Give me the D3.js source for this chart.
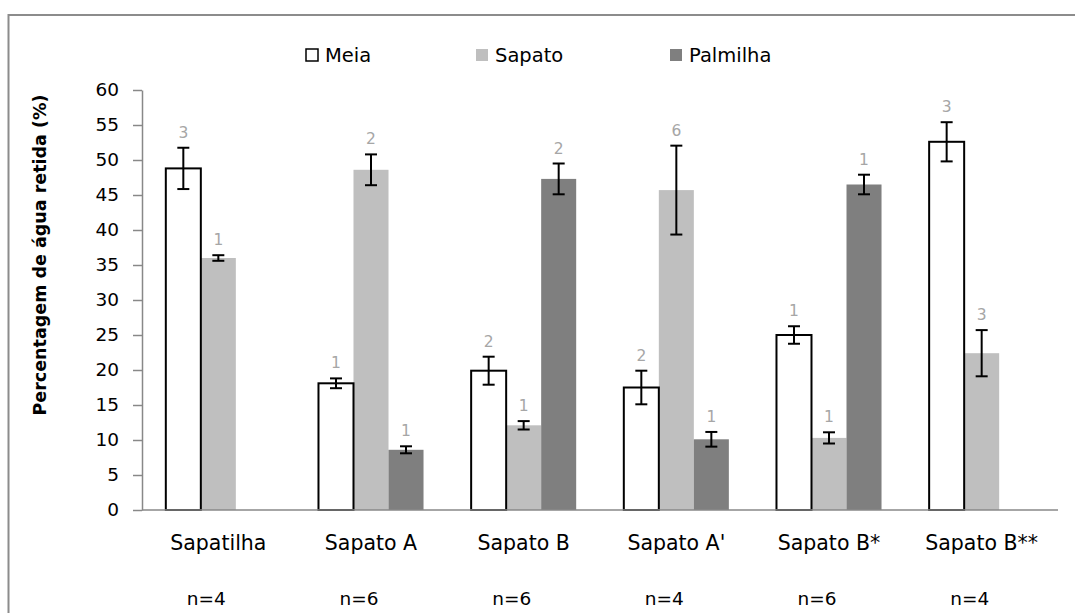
<!DOCTYPE html>
<html><head><meta charset="utf-8">
<script src="https://cdn.jsdelivr.net/npm/d3@7/dist/d3.min.js"></script>
<style>body{margin:0;background:#fff}svg{display:block}text{font-family:"DejaVu Sans",sans-serif}</style>
</head><body>
<svg id="c" width="1075" height="613"></svg>
<script>
const categories = ["Sapatilha","Sapato A","Sapato B","Sapato A'","Sapato B*","Sapato B**"];
const seriesNames = ["Meia","Sapato","Palmilha"];
const meia = [48.8, 18.1, 19.9, 17.5, 25.0, 52.6];
const meiaErr = [2.95, 0.7, 2.0, 2.4, 1.25, 2.8];
const sapato = [36.0, 48.6, 12.1, 45.7, 10.3, 22.4];
const sapatoErr = [0.4, 2.2, 0.6, 6.35, 0.8, 3.3];
const palmilha = [null, 8.6, 47.3, 10.1, 46.5, null];
const palmilhaErr = [null, 0.5, 2.2, 1.05, 1.4, null];
const meiaN = [3, 1, 2, 2, 1, 3];
const sapatoN = [1, 2, 1, 6, 1, 3];
const palmilhaN = [null, 1, 2, 1, 1, null];
const nLabels = ["n=4","n=6","n=6","n=4","n=6","n=4"];
const yTicks = [0,5,10,15,20,25,30,35,40,45,50,55,60];

const values = {Meia: meia, Sapato: sapato, Palmilha: palmilha};
const errs = {Meia: meiaErr, Sapato: sapatoErr, Palmilha: palmilhaErr};
const ns = {Meia: meiaN, Sapato: sapatoN, Palmilha: palmilhaN};
const fills = {Meia: "#ffffff", Sapato: "#bfbfbf", Palmilha: "#7f7f7f"};

const svg = d3.select("#c");
// outer border
svg.append("rect").attr("x",8.5).attr("y",15).attr("width",1200).attr("height",800)
  .attr("fill","none").attr("stroke","#8c8c8c").attr("stroke-width",2);

const x0 = d3.scaleBand().domain(categories).range([142,1058]).paddingInner(0.312).paddingOuter(0.156);
const x1 = d3.scaleBand().domain(seriesNames).range([0, x0.bandwidth()]);
const y = d3.scaleLinear().domain([0,60]).range([510,90]);

// y axis
const ya = svg.append("g").attr("transform","translate(142,0)")
  .call(d3.axisLeft(y).tickValues(yTicks).tickSize(9).tickPadding(14).tickSizeOuter(0));
ya.select(".domain").attr("stroke","#888").attr("stroke-width",1.5);
ya.selectAll(".tick line").attr("stroke","#888").attr("stroke-width",1.5);
ya.selectAll(".tick text").attr("font-size",18.5).attr("fill","#000").attr("font-family","DejaVu Sans");

// bars
const rows = [];
categories.forEach((c,i)=>seriesNames.forEach(s=>{
  if(values[s][i]!=null) rows.push({c, s, v: values[s][i], e: errs[s][i], n: ns[s][i]});
}));
const bars = svg.append("g");
bars.selectAll("rect").data(rows.filter(d=>d.s!=="Meia")).join("rect")
  .attr("x",d=>x0(d.c)+x1(d.s)).attr("width",x1.bandwidth())
  .attr("y",d=>y(d.v)).attr("height",d=>y(0)-y(d.v)).attr("fill",d=>fills[d.s]);
bars.selectAll("rect.m").data(rows.filter(d=>d.s==="Meia")).join("rect").attr("class","m")
  .attr("x",d=>x0(d.c)+x1(d.s)).attr("width",x1.bandwidth())
  .attr("y",d=>y(d.v)).attr("height",d=>y(0)-y(d.v))
  .attr("fill","#fff").attr("stroke","#000").attr("stroke-width",2);

// x axis line
svg.append("line").attr("x1",142).attr("x2",1058).attr("y1",y(0)).attr("y2",y(0))
  .attr("stroke","#888").attr("stroke-width",1.5);

// error bars
const eb = svg.append("g").attr("stroke","#000").attr("stroke-width",2);
rows.forEach(d=>{
  const cx = x0(d.c)+x1(d.s)+x1.bandwidth()/2;
  eb.append("line").attr("x1",cx).attr("x2",cx).attr("y1",y(d.v+d.e)).attr("y2",y(d.v-d.e));
  eb.append("line").attr("x1",cx-6).attr("x2",cx+6).attr("y1",y(d.v+d.e)).attr("y2",y(d.v+d.e));
  eb.append("line").attr("x1",cx-6).attr("x2",cx+6).attr("y1",y(d.v-d.e)).attr("y2",y(d.v-d.e));
});

// count labels
svg.append("g").selectAll("text").data(rows).join("text")
  .attr("x",d=>x0(d.c)+x1(d.s)+x1.bandwidth()/2)
  .attr("y",d=>y(d.v+d.e)-10)
  .attr("text-anchor","middle").attr("font-size",15.5).attr("fill","#a6a6a6")
  .text(d=>d.n);

// category labels
svg.append("g").selectAll("text").data(categories).join("text")
  .attr("x",d=>x0(d)+x0.bandwidth()/2).attr("y",550)
  .attr("text-anchor","middle").attr("font-size",20.5).attr("fill","#000").text(d=>d);

// n labels
svg.append("g").selectAll("text").data(nLabels).join("text")
  .attr("x",(d,i)=>x0(categories[i])+x0.bandwidth()/2-12).attr("y",605)
  .attr("text-anchor","middle").attr("font-size",18.5).attr("fill","#000").text(d=>d);

// y title
svg.append("text").attr("transform","translate(46,255) rotate(-90)")
  .attr("text-anchor","middle").attr("font-size",17.5).attr("font-weight","bold")
  .text("Percentagem de água retida (%)");

// legend
const legX = [306, 476, 670];
const lg = svg.append("g");
seriesNames.forEach((s,i)=>{
  lg.append("rect").attr("x",legX[i]).attr("y",49).attr("width",12).attr("height",12)
    .attr("fill",fills[s]).attr("stroke",s==="Meia"?"#000":"none").attr("stroke-width",1.5);
  lg.append("text").attr("x",legX[i]+19).attr("y",62).attr("font-size",19.5).text(s);
});
</script>
</body></html>
